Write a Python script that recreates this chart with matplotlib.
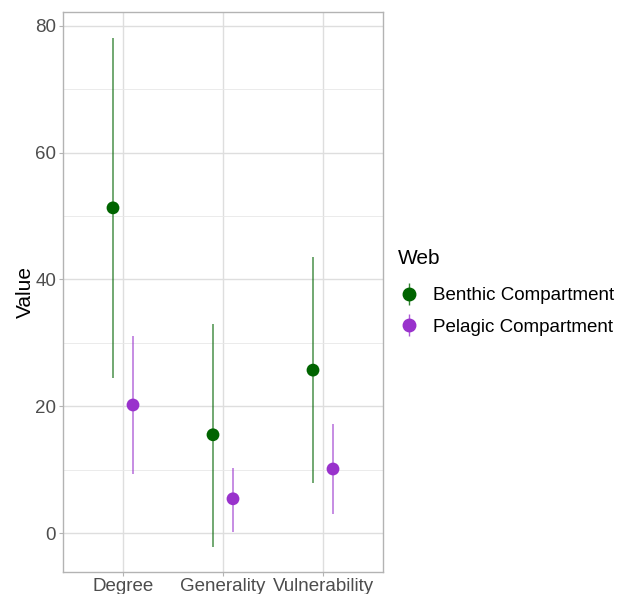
import numpy as np
import matplotlib
matplotlib.use("Agg")
import matplotlib.pyplot as plt
from matplotlib.lines import Line2D
from matplotlib.legend_handler import HandlerTuple

plt.rcParams['font.family'] = ['Liberation Sans', 'DejaVu Sans']

metrics = ["Degree", "Generality", "Vulnerability"]
webs = ["Benthic Compartment", "Pelagic Compartment"]
colors = ["#006400", "#9932CC"]

benthic_mean = [51.3, 15.5, 25.7]
benthic_lo = [24.5, -2.2, 7.9]
benthic_hi = [78.1, 33.0, 43.6]
pelagic_mean = [20.2, 5.4, 10.1]
pelagic_lo = [9.3, 0.2, 3.0]
pelagic_hi = [31.1, 10.3, 17.2]

fig = plt.figure(figsize=(6.18, 5.94), dpi=100)
ax = fig.add_axes([63/618, 22/594, 320/618, 560/594])

x = np.arange(1, len(metrics) + 1)
series = [(benthic_mean, benthic_lo, benthic_hi), (pelagic_mean, pelagic_lo, pelagic_hi)]
for i, (m, lo, hi) in enumerate(series):
    xs = x + (i - 0.5) * 0.2
    ax.vlines(xs, lo, hi, color=colors[i], alpha=0.6, lw=1.3, zorder=3)
    ax.scatter(xs, m, s=85, color=colors[i], zorder=4, edgecolors='none')

ax.set_xlim(0.4, 3.6)
ax.set_ylim(-6.15, 82.2)
ax.set_xticks(x)
ax.set_xticklabels(metrics)
ax.set_yticks([0, 20, 40, 60, 80])
ax.set_yticks([10, 30, 50, 70], minor=True)
ax.grid(which='major', color='#DEDEDE', lw=1.0)
ax.grid(which='minor', axis='y', color='#E8E8E8', lw=0.6)
ax.set_axisbelow(True)
for s in ax.spines.values():
    s.set_color('#B3B3B3')
    s.set_linewidth(1.0)
ax.tick_params(which='major', color='#B3B3B3', length=3, labelcolor='#4D4D4D', labelsize=13.5, pad=2)
ax.tick_params(axis='x', pad=1)
ax.tick_params(which='minor', length=0)
ax.set_ylabel("Value", fontsize=15, labelpad=0)

handles = []
for c in colors:
    vline = Line2D([0], [0], marker='|', color=c, alpha=0.8, markersize=16, markeredgewidth=1.0, lw=0)
    dot = Line2D([0], [0], marker='o', color=c, markersize=9, lw=0)
    handles.append((vline, dot))
leg = fig.legend(handles, webs, title="Web", loc='upper left', bbox_to_anchor=(381/618, 1 - 232/594),
                 frameon=False, fontsize=13.5, title_fontsize=15, handletextpad=0.7,
                 labelspacing=0.75, handlelength=1.2,
                 handler_map={tuple: HandlerTuple(ndivide=1)})
leg._legend_box.align = "left"
leg._legend_box.sep = 14

fig.savefig("out.png", dpi=100)
